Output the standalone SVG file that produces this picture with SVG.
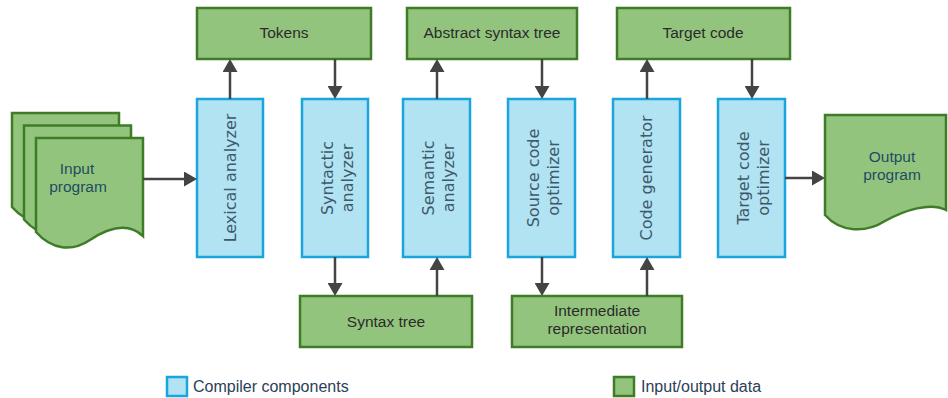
<svg xmlns="http://www.w3.org/2000/svg" width="948" height="398" viewBox="0 0 948 398">
  <style>
    .io { fill: #93c47d; stroke: #3e7c27; stroke-width: 2.5; }
    .comp { fill: #b1e3f3; stroke: #1ba5de; stroke-width: 2.5; }
    .lbl { font-family: "Liberation Sans", Arial, sans-serif; font-size: 15.5px; fill: #2b2b2b; text-anchor: middle; }
    .doc { font-family: "Liberation Sans", Arial, sans-serif; font-size: 15.5px; fill: #1f4c63; text-anchor: middle; }
    .vert { font-family: "DejaVu Sans", sans-serif; font-size: 16px; fill: #40596a; text-anchor: middle; }
    .leg { font-family: "Liberation Sans", Arial, sans-serif; font-size: 16px; fill: #2b4057; }
    .edge { stroke: #444; stroke-width: 2.5; fill: none; marker-end: url(#ah); }
  </style>
  <defs>
    <marker id="ah" viewBox="0 0 13 15" refX="9" refY="7.5" markerWidth="13" markerHeight="15" orient="auto" markerUnits="userSpaceOnUse">
      <path d="M0,0 L13,7.5 L0,15 Z" fill="#444"/>
    </marker>
    <path id="page" d="M36,138 H143 V236 C128,222 108,228 90,240 C72,252 52,250 36,232 Z"/>
  </defs>

  <!-- input document stack -->
  <g id="input-program">
    <use href="#page" class="io" transform="translate(-24,-25)"/>
    <use href="#page" class="io" transform="translate(-12,-12.5)"/>
    <use href="#page" class="io"/>
    <text class="doc" x="77" y="174">Input</text>
    <text class="doc" x="78" y="192">program</text>
  </g>

  <!-- output document -->
  <g id="output-program">
    <path class="io" d="M825,115 H946 V210 C930,202 905,210 885,221 C866,233 841,233 825,215 Z"/>
    <text class="doc" x="892" y="162">Output</text>
    <text class="doc" x="892" y="180">program</text>
  </g>

  <!-- intermediate data -->
  <g id="tokens">
    <rect class="io" x="197" y="8" width="174" height="51"/>
    <text class="lbl" x="284" y="38">Tokens</text>
  </g>
  <g id="ast">
    <rect class="io" x="407" y="8" width="170" height="51"/>
    <text class="lbl" x="492" y="38">Abstract syntax tree</text>
  </g>
  <g id="target-code">
    <rect class="io" x="617" y="8" width="173" height="51"/>
    <text class="lbl" x="703" y="38">Target code</text>
  </g>
  <g id="syntax-tree">
    <rect class="io" x="300" y="296" width="172" height="51"/>
    <text class="lbl" x="386" y="327">Syntax tree</text>
  </g>
  <g id="ir">
    <rect class="io" x="512" y="296" width="170" height="51"/>
    <text class="lbl" x="597" y="316">Intermediate</text>
    <text class="lbl" x="597" y="334">representation</text>
  </g>

  <!-- compiler stages -->
  <g id="lexical">
    <rect class="comp" x="197" y="99" width="66" height="158"/>
    <text class="vert" transform="translate(236,178) rotate(-90)">Lexical analyzer</text>
  </g>
  <g id="syntactic">
    <rect class="comp" x="302" y="99" width="66" height="158"/>
    <text class="vert" transform="translate(333,178) rotate(-90)">Syntactic</text>
    <text class="vert" transform="translate(353,178) rotate(-90)">analyzer</text>
  </g>
  <g id="semantic">
    <rect class="comp" x="403" y="99" width="67" height="158"/>
    <text class="vert" transform="translate(434,178) rotate(-90)">Semantic</text>
    <text class="vert" transform="translate(454,178) rotate(-90)">analyzer</text>
  </g>
  <g id="source-optimizer">
    <rect class="comp" x="508" y="99" width="67" height="158"/>
    <text class="vert" transform="translate(539,178) rotate(-90)">Source code</text>
    <text class="vert" transform="translate(559,178) rotate(-90)">optimizer</text>
  </g>
  <g id="code-generator">
    <rect class="comp" x="613" y="99" width="67" height="158"/>
    <text class="vert" transform="translate(652,178) rotate(-90)">Code generator</text>
  </g>
  <g id="target-optimizer">
    <rect class="comp" x="718" y="99" width="67" height="158"/>
    <text class="vert" transform="translate(749,178) rotate(-90)">Target code</text>
    <text class="vert" transform="translate(769,178) rotate(-90)">optimizer</text>
  </g>

  <!-- connectors -->
  <g id="connectors">
    <path class="edge" d="M143,179 H193"/>
    <path class="edge" d="M230,99 V63"/>
    <path class="edge" d="M335,59 V95"/>
    <path class="edge" d="M335,257 V292"/>
    <path class="edge" d="M437,296 V261"/>
    <path class="edge" d="M437,99 V63"/>
    <path class="edge" d="M542,59 V95"/>
    <path class="edge" d="M542,257 V292"/>
    <path class="edge" d="M647,296 V261"/>
    <path class="edge" d="M647,99 V63"/>
    <path class="edge" d="M752,59 V95"/>
    <path class="edge" d="M785,178 H821"/>
  </g>

  <!-- legend -->
  <g id="legend">
    <rect class="comp" x="167" y="377" width="20" height="19"/>
    <text class="leg" x="193" y="392">Compiler components</text>
    <rect class="io" x="614" y="377" width="20" height="19"/>
    <text class="leg" x="641" y="392">Input/output data</text>
  </g>
</svg>
